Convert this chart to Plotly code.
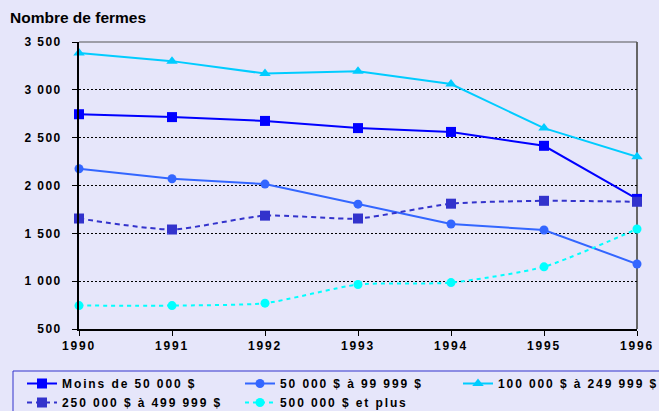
import plotly.graph_objects as go

years = [1990, 1991, 1992, 1993, 1994, 1995, 1996]
series_names = [
    "Moins de 50 000 $",
    "50 000 $ à 99 999 $",
    "100 000 $ à 249 999 $",
    "250 000 $ à 499 999 $",
    "500 000 $ et plus",
]
moins_50k = [2745, 2715, 2675, 2600, 2560, 2415, 1860]
de_50k_99k = [2175, 2070, 2015, 1805, 1597, 1535, 1180]
de_100k_249k = [3385, 3300, 3170, 3195, 3060, 2600, 2300]
de_250k_499k = [1655, 1540, 1685, 1655, 1810, 1840, 1830]
plus_500k = [745, 745, 770, 965, 985, 1150, 1545]
y_ticks = [500, 1000, 1500, 2000, 2500, 3000, 3500]
y_tick_labels = ["500", "1 000", "1 500", "2 000", "2 500", "3 000", "3 500"]

BG = "#E6E6FA"
FONT = "Liberation Sans, Arial, sans-serif"

# plot area in pixels (for converting layout positions to paper coords)
L, R, T, B = 79, 637, 42, 329
PW, PH = R - L, B - T
def px_x(x):
    return (x - L) / PW
def px_y(y):
    return (B - y) / PH

styles = [
    dict(color="#0000FF", symbol="square", size=10, dash="solid", shape="linear", legend="legend"),
    dict(color="#3366FF", symbol="circle", size=9, dash="solid", shape="linear", legend="legend2"),
    dict(color="#00CCFF", symbol="triangle-up", size=10, dash="solid", shape="linear", legend="legend3"),
    dict(color="#3333CC", symbol="square", size=10, dash="5px,4px", shape="spline", legend="legend"),
    dict(color="#00FFFF", symbol="circle", size=9, dash="4px,4px", shape="spline", legend="legend2"),
]
values = [moins_50k, de_50k_99k, de_100k_249k, de_250k_499k, plus_500k]

fig = go.Figure()
for name, vals, st in zip(series_names, values, styles):
    fig.add_trace(go.Scatter(
        x=years, y=vals, name=name, mode="lines+markers",
        line=dict(color=st["color"], width=2, dash=st["dash"], shape=st["shape"], smoothing=0.6),
        marker=dict(color=st["color"], symbol=st["symbol"], size=st["size"], line=dict(width=0)),
        cliponaxis=False, legend=st["legend"],
    ))

legend_font = dict(family=FONT, size=12, color="black", weight="bold")
def leg(xpx):
    return dict(orientation="v", x=px_x(xpx), xanchor="left", y=px_y(369), yanchor="top",
                bgcolor="rgba(0,0,0,0)", borderwidth=0, traceorder="normal",
                font=legend_font)

fig.update_layout(
    width=659, height=411,
    paper_bgcolor=BG, plot_bgcolor=BG,
    margin=dict(l=L, r=659 - R, t=T, b=411 - B, autoexpand=False),
    font=dict(family=FONT, color="black", size=12, weight="bold"),
    title=dict(text="<b>Nombre de fermes</b>", x=10/659, xref="container", xanchor="left",
               y=1-12/411, yref="container", yanchor="top",
               font=dict(family=FONT, size=15.5, color="black")),
    xaxis=dict(range=[1990, 1996], tickvals=years, ticktext=[str(y) for y in years],
               showgrid=False, zeroline=False, showline=True, linecolor="black", linewidth=2,
               ticks="outside", ticklen=5, tickwidth=1, tickcolor="black",
               tickfont=dict(family=FONT, size=12, color="black", weight="bold"),
               fixedrange=True, automargin=False),
    yaxis=dict(range=[500, 3500], tickvals=y_ticks, ticktext=y_tick_labels,
               showgrid=True, gridcolor="black", gridwidth=1, griddash="2px,2px",
               zeroline=False, showline=True, linecolor="black", linewidth=2,
               ticks="outside", ticklen=5, tickwidth=1, tickcolor="black",
               ticklabelstandoff=8,
               tickfont=dict(family=FONT, size=12, color="black", weight="bold"),
               fixedrange=True, automargin=False),
    legend=leg(22),
    legend2=leg(240),
    legend3=leg(458),
    showlegend=True,
    hovermode=False,
)
fig.add_shape(type="line", xref="paper", yref="paper", x0=1, x1=1, y0=0, y1=1,
              line=dict(color="#666666", width=2), layer="below")
fig.add_shape(type="line", xref="paper", yref="paper", x0=0, x1=1, y0=1, y1=1,
              line=dict(color="#555555", width=1), layer="below")
# legend frame
fig.add_shape(type="rect", xref="paper", yref="paper",
              x0=px_x(13), x1=px_x(675), y0=px_y(371), y1=px_y(425),
              line=dict(color="#3333CC", width=1), fillcolor="rgba(0,0,0,0)", layer="below")

post = """
document.body.style.margin = '0';
document.body.style.padding = '0';
var st = document.createElement('style');
st.textContent = '.legendtext, [class^="legend"] text, .infolayer .scrollbox text{letter-spacing:1.9px !important;}' +
  '.xtick text{letter-spacing:1.8px !important;}' +
  '.ytick text{letter-spacing:1.4px !important;}' +
  '.scrollbox, [class^="legend"] .scrollbox{clip-path:none !important;}';
document.head.appendChild(st);
var gd = document.getElementById('{plot_id}');
function sp(){
  gd.querySelectorAll('.infolayer .scrollbox').forEach(function(s){
    s.removeAttribute('clip-path');
    s.style.clipPath = 'none';
    s.querySelectorAll('text').forEach(function(t){ t.style.letterSpacing = '1.9px'; });
  });
}
sp();
setTimeout(sp, 0);
setTimeout(sp, 100);
setTimeout(sp, 500);
"""
fig.write_html("out.html", post_script=post, config={"displayModeBar": False, "staticPlot": True})
